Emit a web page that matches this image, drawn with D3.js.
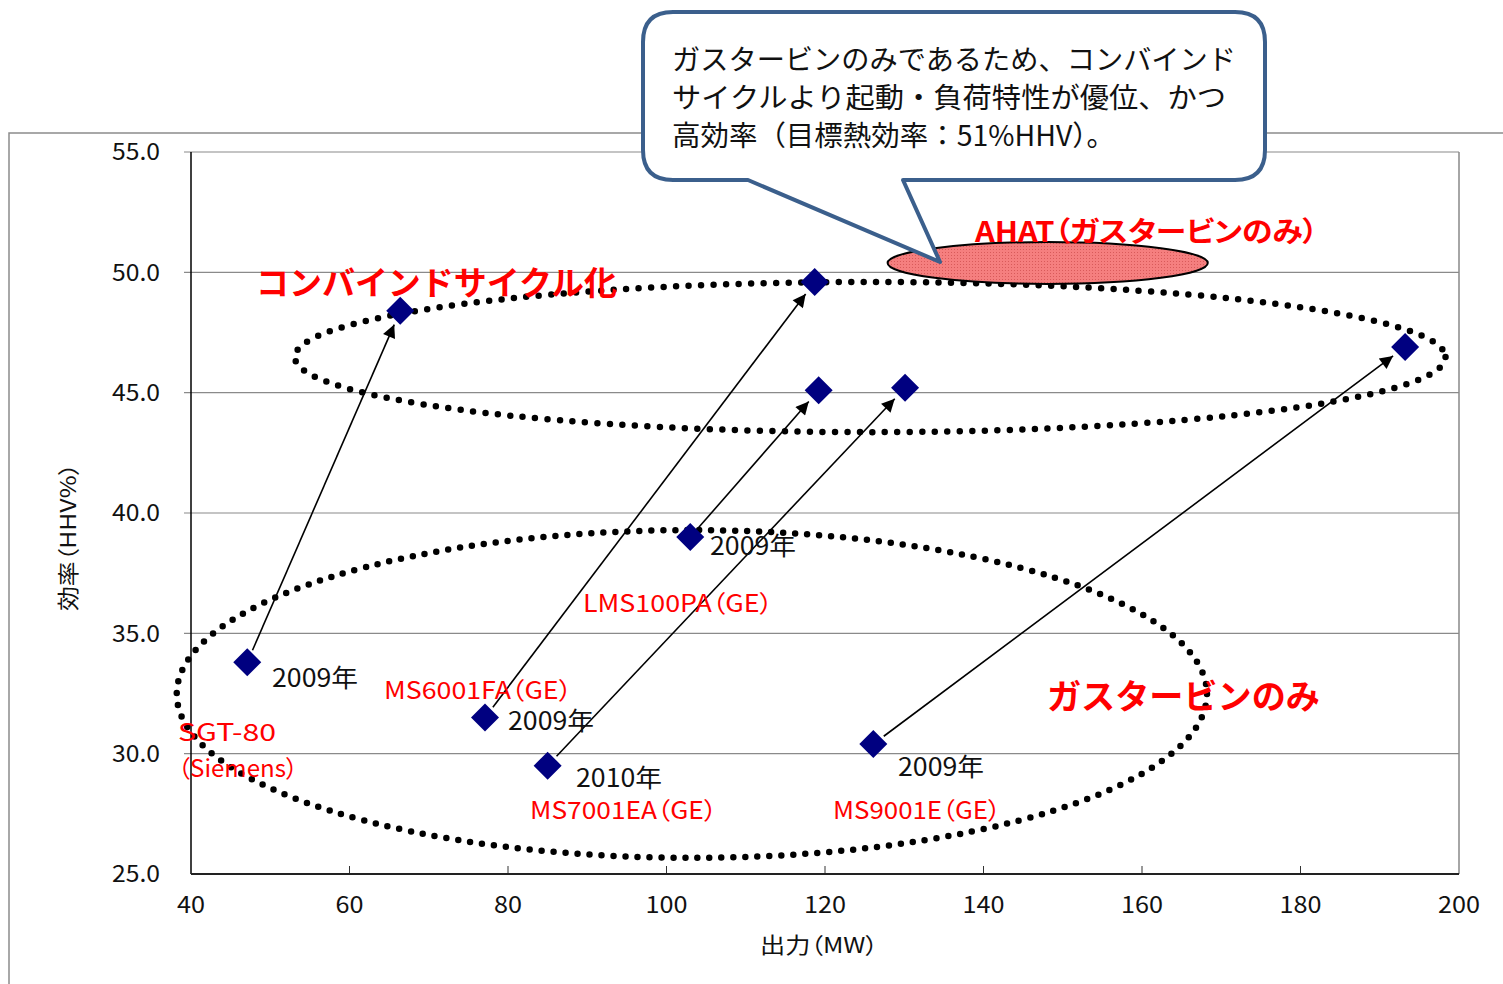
<!DOCTYPE html>
<html><head><meta charset="utf-8">
<script src="https://cdn.jsdelivr.net/npm/d3@7"></script>
<style>
html,body{margin:0;padding:0;background:#fff;}
svg{display:block;font-family:"Noto Sans CJK JP","Noto Sans",sans-serif;}
.p{font-feature-settings:"palt";}
</style></head>
<body><svg id="c" width="1503" height="984"></svg>
<script>
// ---- data ----
const models      = ["SGT-80", "MS6001FA", "MS7001EA", "LMS100PA", "MS9001E"];
const modelLabels = ["SGT-80\n（Siemens）", "MS6001FA（GE）", "MS7001EA（GE）", "LMS100PA（GE）", "MS9001E（GE）"];
const years       = ["2009年", "2009年", "2010年", "2009年", "2009年"];
const gtOutput    = [47.1, 77.1, 85.0, 103.0, 126.1];   // MW, gas turbine only
const gtEff       = [33.8, 31.5, 29.5, 39.0, 30.4];     // %HHV
const ccOutput    = [66.4, 118.7, 130.1, 119.2, 193.2]; // MW, combined cycle
const ccEff       = [48.4, 49.6, 45.2, 45.1, 46.9];     // %HHV
const xTicks = [40, 60, 80, 100, 120, 140, 160, 180, 200];
const yTicks = [25, 30, 35, 40, 45, 50, 55];
// annotation regions in data units: [cx, cy, rx, ry]
const ccRegion   = [125.7, 46.48, 72.6, 3.12];
const gtRegion   = [103.2, 32.48, 65.0, 6.81];
const ahatRegion = [148.1, 50.39, 20.2, 0.87];
const calloutLines = ["ガスタービンのみであるため、コンバインド", "サイクルより起動・負荷特性が優位、かつ", "高効率（目標熱効率：51%HHV）。"];

// ---- layout ----
const svg = d3.select("#c");
const L = 191, R = 1459, T = 152, B = 874;
const x = d3.scaleLinear().domain([40, 200]).range([L, R]);
const y = d3.scaleLinear().domain([25, 55]).range([B, T]);

// outer chart border
svg.append("path").attr("d", `M9,984 V133 H1503`).attr("fill", "none").attr("stroke", "#8c8c8c").attr("stroke-width", 1.5);

// gridlines
svg.append("g").selectAll("line").data(yTicks.filter(d => d > 25)).join("line")
  .attr("x1", L - 7).attr("x2", R).attr("y1", d => y(d)).attr("y2", d => y(d))
  .attr("stroke", "#8a8a8a").attr("stroke-width", 1.2);
svg.append("line").attr("x1", R).attr("x2", R).attr("y1", T).attr("y2", B).attr("stroke", "#888").attr("stroke-width", 1.5);
svg.append("g").selectAll("line").data(xTicks.slice(1, -1)).join("line")
  .attr("x1", d => x(d)).attr("x2", d => x(d)).attr("y1", B - 8).attr("y2", B)
  .attr("stroke", "#333").attr("stroke-width", 1);
svg.append("line").attr("x1", L).attr("x2", L).attr("y1", T).attr("y2", B).attr("stroke", "#000").attr("stroke-width", 1.5);
svg.append("line").attr("x1", L).attr("x2", R).attr("y1", B).attr("y2", B).attr("stroke", "#222").attr("stroke-width", 2);

// tick labels (wide digits like the original font)
const numLen = s => [...s].reduce((a, c) => a + (c === "." ? 6 : 14), 0);
svg.append("g").selectAll("text").data(yTicks).join("text")
  .attr("x", 160).attr("y", d => y(d)).attr("dy", "0.36em").attr("text-anchor", "end")
  .attr("font-size", 23).attr("fill", "#111")
  .attr("textLength", d => numLen(d.toFixed(1))).attr("lengthAdjust", "spacingAndGlyphs")
  .text(d => d.toFixed(1));
svg.append("g").selectAll("text").data(xTicks).join("text")
  .attr("x", d => x(d)).attr("y", 905).attr("dy", "0.36em").attr("text-anchor", "middle")
  .attr("font-size", 23).attr("fill", "#111")
  .attr("textLength", d => numLen(String(d))).attr("lengthAdjust", "spacingAndGlyphs")
  .text(d => d);

// axis titles
svg.append("text").attr("x", 819).attr("y", 945).attr("dy", "0.36em").attr("text-anchor", "middle")
  .attr("font-size", 22).attr("fill", "#111").attr("class", "p")
  .attr("textLength", 118).attr("lengthAdjust", "spacingAndGlyphs").text("出力（MW）");
svg.append("text").attr("transform", "translate(68,537) rotate(-90)").attr("dy", "0.36em").attr("text-anchor", "middle")
  .attr("font-size", 22).attr("fill", "#111").attr("class", "p")
  .attr("textLength", 148).attr("lengthAdjust", "spacingAndGlyphs").text("効率（HHV%）");

// dotted regions
function ellipse(r) {
  return svg.append("ellipse").attr("cx", x(r[0])).attr("cy", y(r[1]))
    .attr("rx", x(r[0] + r[2]) - x(r[0])).attr("ry", y(r[1] - r[3]) - y(r[1]));
}
ellipse(ccRegion).attr("fill", "none").attr("stroke", "#000").attr("stroke-width", 6.5)
  .attr("stroke-linecap", "round").attr("stroke-dasharray", "0 12.5");
ellipse(gtRegion).attr("fill", "none").attr("stroke", "#000").attr("stroke-width", 6.5)
  .attr("stroke-linecap", "round").attr("stroke-dasharray", "0 12");

// AHAT ellipse with dotted texture
const defs = svg.append("defs");
const pat = defs.append("pattern").attr("id", "dots").attr("width", 3).attr("height", 3).attr("patternUnits", "userSpaceOnUse");
pat.append("rect").attr("width", 3).attr("height", 3).attr("fill", "#f57f7f");
pat.append("rect").attr("width", 1).attr("height", 1).attr("fill", "#d85a5a");
ellipse(ahatRegion).attr("fill", "url(#dots)").attr("stroke", "#000").attr("stroke-width", 2);

// arrows
defs.append("marker").attr("id", "ah").attr("viewBox", "0 0 10 10").attr("refX", 10).attr("refY", 5)
  .attr("markerWidth", 16).attr("markerHeight", 13).attr("markerUnits", "userSpaceOnUse").attr("orient", "auto")
  .append("path").attr("d", "M0,0 L10,5 L0,10 Z").attr("fill", "#000");
const arrows = models.map((m, i) => {
  const x1 = x(gtOutput[i]), y1 = y(gtEff[i]), x2 = x(ccOutput[i]), y2 = y(ccEff[i]);
  const len = Math.hypot(x2 - x1, y2 - y1), ux = (x2 - x1) / len, uy = (y2 - y1) / len;
  return [x1 + ux * 13, y1 + uy * 13, x2 - ux * 15, y2 - uy * 15];
});
svg.append("g").selectAll("line").data(arrows).join("line")
  .attr("x1", d => d[0]).attr("y1", d => d[1]).attr("x2", d => d[2]).attr("y2", d => d[3])
  .attr("stroke", "#000").attr("stroke-width", 1.6).attr("marker-end", "url(#ah)");

// diamonds
const diamond = "M0,-14 L14,0 L0,14 L-14,0 Z";
const pts = gtOutput.map((v, i) => [v, gtEff[i]]).concat(ccOutput.map((v, i) => [v, ccEff[i]]));
svg.append("g").selectAll("path").data(pts).join("path")
  .attr("transform", d => `translate(${x(d[0])},${y(d[1])})`).attr("d", diamond).attr("fill", "#000080");

// year labels
const yearPos = [[272, 678], [508, 721], [576, 778], [710, 546], [898, 767]];
svg.append("g").selectAll("text").data(years).join("text")
  .attr("x", (d, i) => yearPos[i][0]).attr("y", (d, i) => yearPos[i][1]).attr("dy", "0.36em")
  .attr("font-size", 25).attr("fill", "#111")
  .attr("textLength", 86).attr("lengthAdjust", "spacingAndGlyphs").text(d => d);

// model labels (red)
const modelPos = [[178, 732], [384, 690], [530, 810], [583, 603], [833, 810]];
const modelLen = [[98, 120], [188], [187], [190], [168]];
modelLabels.forEach((lab, i) => {
  lab.split("\n").forEach((ln, j) => {
    svg.append("text").attr("class", "p").attr("x", modelPos[i][0]).attr("y", modelPos[i][1] + j * 36).attr("dy", "0.36em")
      .attr("font-size", 24).attr("fill", "#ff0000")
      .attr("textLength", modelLen[i][j]).attr("lengthAdjust", "spacingAndGlyphs").text(ln);
  });
});

// region labels
svg.append("text").attr("x", 256).attr("y", 283).attr("dy", "0.36em").attr("font-size", 33).attr("font-weight", "bold")
  .attr("fill", "#ff0000").attr("textLength", 361).attr("lengthAdjust", "spacingAndGlyphs").text("コンバインドサイクル化");
svg.append("text").attr("x", 1047).attr("y", 697).attr("dy", "0.36em").attr("font-size", 34).attr("font-weight", "bold")
  .attr("fill", "#ff0000").attr("textLength", 273).attr("lengthAdjust", "spacingAndGlyphs").text("ガスタービンのみ");
svg.append("text").attr("class", "p").attr("x", 975).attr("y", 232).attr("dy", "0.36em").attr("font-size", 28).attr("font-weight", "bold")
  .attr("fill", "#ff0000").attr("textLength", 343).attr("lengthAdjust", "spacingAndGlyphs").text("AHAT（ガスタービンのみ）");

// callout
const cx0 = 643, cy0 = 12, cx1 = 1265, cy1 = 180, rr = 30;
const tip = [940, 262], b1 = 748, b2 = 903;
const callPath = `M${cx0 + rr},${cy0} H${cx1 - rr} Q${cx1},${cy0} ${cx1},${cy0 + rr} V${cy1 - rr} Q${cx1},${cy1} ${cx1 - rr},${cy1}
  H${b2} L${tip[0]},${tip[1]} L${b1},${cy1} H${cx0 + rr} Q${cx0},${cy1} ${cx0},${cy1 - rr} V${cy0 + rr} Q${cx0},${cy0} ${cx0 + rr},${cy0} Z`;
svg.append("path").attr("d", callPath).attr("fill", "#fff").attr("stroke", "#3b5f8c").attr("stroke-width", 4).attr("stroke-linejoin", "round");
const callLen = [564, 554, 443];
svg.append("g").selectAll("text").data(calloutLines).join("text")
  .attr("x", 672).attr("y", (d, i) => 60 + i * 38).attr("dy", "0.36em")
  .attr("font-size", 28).attr("fill", "#111")
  .attr("textLength", (d, i) => callLen[i]).attr("lengthAdjust", "spacingAndGlyphs").text(d => d);
</script></body></html>
